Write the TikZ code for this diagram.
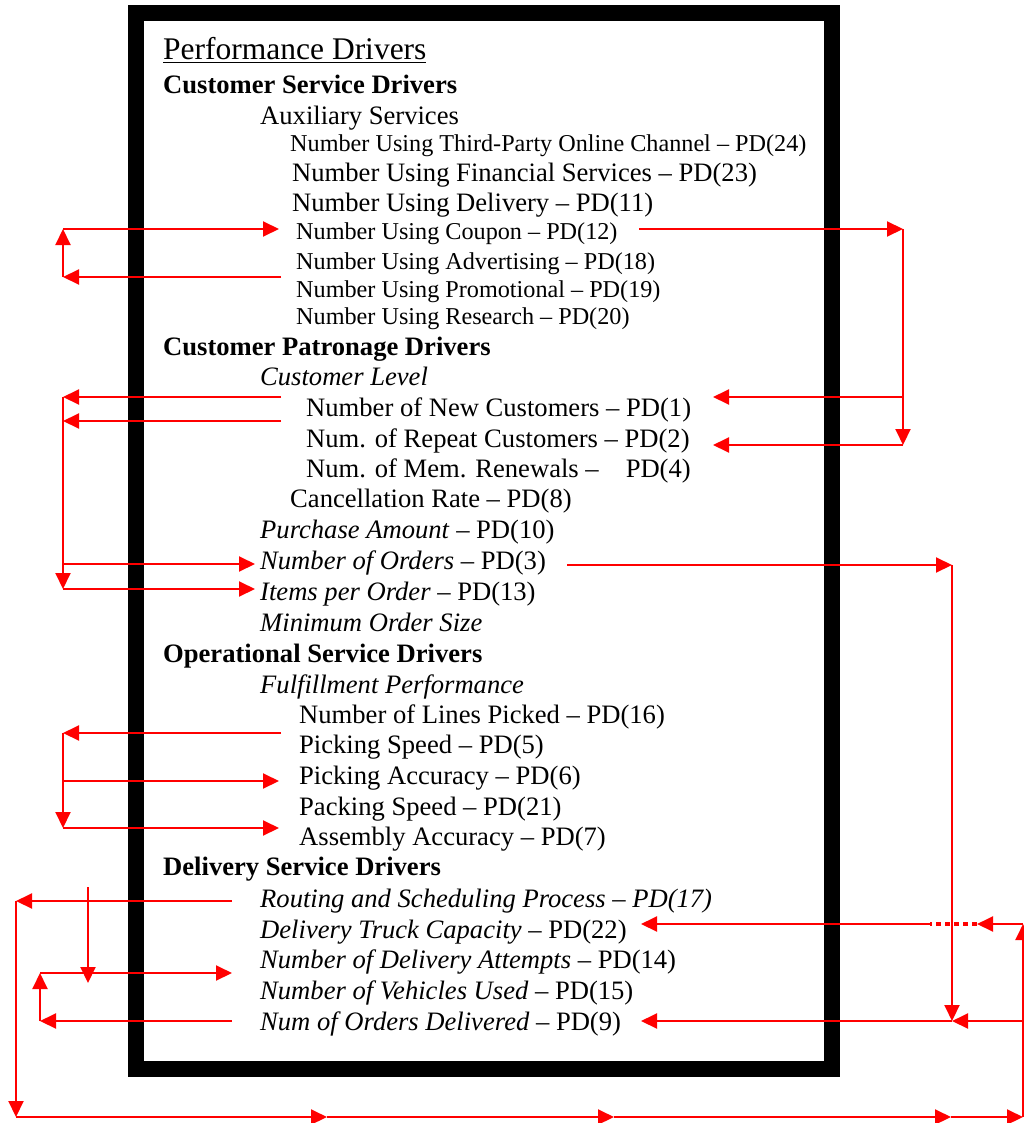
\documentclass[tikz,border=0pt]{standalone}
\usepackage{fontspec}
\setmainfont{Liberation Serif}
\usetikzlibrary{arrows.meta}

\begin{document}
\begin{tikzpicture}[x=1pt,y=-1pt,
    txt/.style={anchor=base west,inner sep=0pt,font=\fontsize{26.6}{30}\selectfont},
    sml/.style={txt,font=\fontsize{24.2}{28}\selectfont},
    hdr/.style={txt,font=\fontsize{26.6}{30}\selectfont\bfseries},
    flow/.style={-{Triangle[length=16pt,width=15pt]},draw=red,line width=2pt},
    dots/.style={draw=red,line width=3.6pt,dash pattern=on 5pt off 4pt}
  ]
  \useasboundingbox (0,0) rectangle (1024,1123);
  \draw[line width=16pt] (136,13) rectangle (832,1069);

  \node[txt,font=\fontsize{31.5}{36}\selectfont] (title) at (163,60) {\underline{Performance Drivers}};
  \node[hdr] (csd) at (163,94) {Customer Service Drivers};
  \node[txt] (aux) at (260,125) {Auxiliary Services};
  \node[sml] (pd24) at (290,152) {Number Using Third-Party Online Channel -- PD(24)};
  \node[txt] (pd23) at (292,182) {Number Using Financial Services -- PD(23)};
  \node[txt] (pd11) at (292,212) {Number Using Delivery -- PD(11)};
  \node[sml] (pd12) at (296,240) {Number Using Coupon -- PD(12)};
  \node[sml] (pd18) at (296,269) {Number Using Advertising -- PD(18)};
  \node[sml] (pd19) at (296,297) {Number Using Promotional -- PD(19)};
  \node[sml] (pd20) at (296,324) {Number Using Research -- PD(20)};
  \node[hdr] (cpd) at (163,355) {Customer Patronage Drivers};
  \node[txt] (clevel) at (260,385) {\itshape Customer Level};
  \node[txt] (pd1) at (306,416) {Number of New Customers -- PD(1)};
  \node[txt] (pd2) at (306,447) {Num. of Repeat Customers -- PD(2)};
  \node[txt] (pd4) at (306,477) {Num. of Mem. Renewals --\hspace{27pt}PD(4)};
  \node[txt] (pd8) at (290,507) {Cancellation Rate -- PD(8)};
  \node[txt] (pd10) at (260,538) {\textit{Purchase Amount} -- PD(10)};
  \node[txt] (pd3) at (260,569) {\textit{Number of Orders} -- PD(3)};
  \node[txt] (pd13) at (260,600) {\textit{Items per Order} -- PD(13)};
  \node[txt] (minord) at (260,631) {\itshape Minimum Order Size};
  \node[hdr] (osd) at (163,662) {Operational Service Drivers};
  \node[txt] (fulfil) at (260,693) {\itshape Fulfillment Performance};
  \node[txt] (pd16) at (299,723) {Number of Lines Picked -- PD(16)};
  \node[txt] (pd5) at (299,753) {Picking Speed -- PD(5)};
  \node[txt] (pd6) at (299,784) {Picking Accuracy -- PD(6)};
  \node[txt] (pd21) at (299,815) {Packing Speed -- PD(21)};
  \node[txt] (pd7) at (299,845) {Assembly Accuracy -- PD(7)};
  \node[hdr] (dsd) at (163,875) {Delivery Service Drivers};
  \node[txt] (pd17) at (260,907) {\itshape Routing and Scheduling Process -- PD(17)};
  \node[txt] (pd22) at (260,938) {\textit{Delivery Truck Capacity} -- PD(22)};
  \node[txt] (pd14) at (260,968) {\textit{Number of Delivery Attempts} -- PD(14)};
  \node[txt] (pd15) at (260,999) {\textit{Number of Vehicles Used} -- PD(15)};
  \node[txt] (pd9) at (260,1030) {\textit{Num of Orders Delivered} -- PD(9)};

  % auxiliary services loop
  \coordinate (a1) at (281,277); \coordinate (a2) at (63,277);
  \coordinate (a3) at (63,229);  \coordinate (a4) at (279,229);
  \draw[flow] (a1) -- (a2);
  \draw[flow] (a2) -- (a3);
  \draw[flow] (a3) -- (a4);

  % coupon to customer level
  \coordinate (c1) at (639,229); \coordinate (c2) at (903,229);
  \coordinate (c3) at (903,445); \coordinate (c4) at (903,397);
  \coordinate (c5) at (713,397); \coordinate (c6) at (713,445);
  \draw[flow] (c1) -- (c2);
  \draw[flow] (c2) -- (c3);
  \draw[flow] (c4) -- (c5);
  \draw[flow] (c3) -- (c6);

  % customer level to orders
  \coordinate (l1) at (281,397); \coordinate (l2) at (63,397);
  \coordinate (l3) at (281,421); \coordinate (l4) at (63,421);
  \coordinate (l5) at (63,589);  \coordinate (l6) at (63,564);
  \coordinate (l7) at (255,564); \coordinate (l8) at (255,589);
  \draw[flow] (l1) -- (l2);
  \draw[flow] (l3) -- (l4);
  \draw[flow] (l2) -- (l5);
  \draw[flow] (l6) -- (l7);
  \draw[flow] (l5) -- (l8);

  % orders down to delivered
  \coordinate (o1) at (567,565); \coordinate (o2) at (952,565);
  \coordinate (o3) at (952,1021);
  \draw[flow] (o1) -- (o2);
  \draw[flow] (o2) -- (o3);

  % fulfillment loop
  \coordinate (f1) at (281,733); \coordinate (f2) at (63,733);
  \coordinate (f3) at (63,828);  \coordinate (f4) at (63,781);
  \coordinate (f5) at (279,781); \coordinate (f6) at (279,828);
  \draw[flow] (f1) -- (f2);
  \draw[flow] (f2) -- (f3);
  \draw[flow] (f4) -- (f5);
  \draw[flow] (f3) -- (f6);

  % delivery loops
  \coordinate (d1) at (232,901); \coordinate (d2) at (16,901);
  \coordinate (d3) at (88,887);  \coordinate (d4) at (88,983);
  \coordinate (d5) at (232,1021); \coordinate (d6) at (40,1021);
  \coordinate (d7) at (40,973);  \coordinate (d8) at (232,973);
  \draw[flow] (d1) -- (d2);
  \draw[flow] (d3) -- (d4);
  \draw[flow] (d5) -- (d6);
  \draw[flow] (d6) -- (d7);
  \draw[flow] (d7) -- (d8);

  % bottom return line
  \coordinate (b0) at (16,1117);  \coordinate (b1) at (327,1117);
  \coordinate (b2) at (614,1117); \coordinate (b3) at (951,1117);
  \coordinate (b4) at (1023,1117);
  \draw[flow] (d2) -- (b0);
  \foreach \p/\q in {b0/b1,b1/b2,b2/b3,b3/b4}
    \draw[flow] (\p) -- (\q);

  \coordinate (r1) at (1023,924); \coordinate (r2) at (977,924);
  \coordinate (r3) at (930,924);  \coordinate (r4) at (641,924);
  \coordinate (r5) at (1023,1021); \coordinate (r6) at (641,1021);
  \draw[flow] (b4) -- (r1);
  \draw[flow] (r1) -- (r2);
  \draw[dots] (r2) -- (r3);
  \draw[flow] (r3) -- (r4);
  \draw[flow] (r5) -- (o3);
  \draw[flow] (o3) -- (r6);
\end{tikzpicture}
\end{document}
